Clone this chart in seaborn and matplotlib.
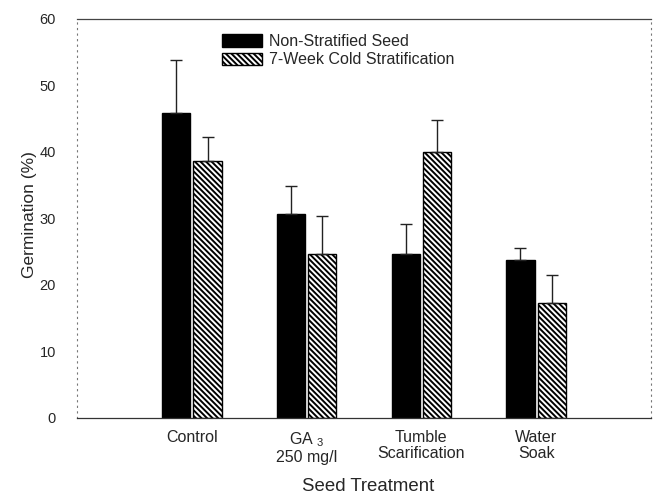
import numpy as np
import pandas as pd
import matplotlib
matplotlib.use("Agg")
import matplotlib.pyplot as plt
import seaborn as sns
from matplotlib.patches import Patch

# Germination data (%) by seed treatment
treatments = ["Control", "GA $_3$\n250 mg/l", "Tumble\nScarification", "Water\nSoak"]
series = ["Non-Stratified Seed", "7-Week Cold Stratification"]
non_stratified = [45.8, 30.7, 24.7, 23.8]
non_stratified_err = [8.0, 4.1, 4.4, 1.7]
cold_stratified = [38.7, 24.7, 40.0, 17.2]
cold_stratified_err = [3.5, 5.6, 4.8, 4.3]
y_ticks = [0, 10, 20, 30, 40, 50, 60]

df = pd.DataFrame({
    "Treatment": treatments * 2,
    "Series": [series[0]] * 4 + [series[1]] * 4,
    "Germination": non_stratified + cold_stratified,
    "Err": non_stratified_err + cold_stratified_err,
})

sns.set_style("white")
plt.rcParams["font.family"] = ["Liberation Sans", "DejaVu Sans"]
plt.rcParams["mathtext.fontset"] = "custom"
plt.rcParams["mathtext.rm"] = "Liberation Sans"
plt.rcParams["hatch.linewidth"] = 1.4

HATCH = "\\" * 6

fig = plt.figure(figsize=(6.57, 4.98), dpi=100)
ax = fig.add_axes([0.117, 0.161, 0.874, 0.801])

sns.barplot(data=df, x="Treatment", y="Germination", hue="Series",
            hue_order=series, order=treatments,
            palette=["black", "white"], width=0.55, gap=0.11,
            edgecolor="black", linewidth=1.0, errorbar=None,
            legend=False, ax=ax)

# hatch the cold-stratified bars and add upward error bars
bars = ax.patches
n = len(treatments)
for i, p in enumerate(bars[:2 * n]):
    if i >= n:
        p.set_hatch(HATCH)
    err = df["Err"].iloc[i]
    xc = p.get_x() + p.get_width() / 2
    ax.errorbar(xc, p.get_height(), yerr=[[0], [err]], fmt="none",
                ecolor="#222222", elinewidth=1.0, capsize=4, capthick=1.0,
                zorder=1)

ax.set_xlim(-1.0, 4.0)
ax.set_ylim(0, 60)
ax.set_yticks(y_ticks)
ax.set_yticklabels([str(t) for t in y_ticks], fontsize=10.5)
ax.tick_params(axis="y", length=4, width=0.8, direction="out", pad=11)
ax.tick_params(axis="x", length=0, pad=9)
for lbl in ax.get_xticklabels():
    lbl.set_fontsize(11.5)
    lbl.set_linespacing(1.05)
ax.set_xlabel("Seed Treatment", fontsize=13.4)
ax.xaxis.set_label_coords(0.507, -0.15)
ax.set_ylabel("Germination (%)", fontsize=12.5)
ax.yaxis.set_label_coords(-0.07, 0.51)

for side in ["left", "right"]:
    ax.spines[side].set_visible(True)
    ax.spines[side].set_color("#777777")
    ax.spines[side].set_linestyle((0, (1, 4)))
    ax.spines[side].set_linewidth(0.8)
ax.spines["top"].set_visible(True)
ax.spines["top"].set_color("#444444")
ax.spines["top"].set_linewidth(0.9)
ax.spines["bottom"].set_color("#333333")
ax.spines["bottom"].set_linewidth(0.9)

handles = [Patch(facecolor="black", edgecolor="black", label=series[0]),
           Patch(facecolor="white", edgecolor="black", hatch=HATCH, label=series[1])]
ax.legend(handles=handles, loc="upper left", bbox_to_anchor=(0.233, 0.99),
          frameon=False, fontsize=11.5, handlelength=2.5, handleheight=0.8,
          handletextpad=0.45, labelspacing=0.2, borderpad=0.2)

fig.savefig("out.png", dpi=100)
